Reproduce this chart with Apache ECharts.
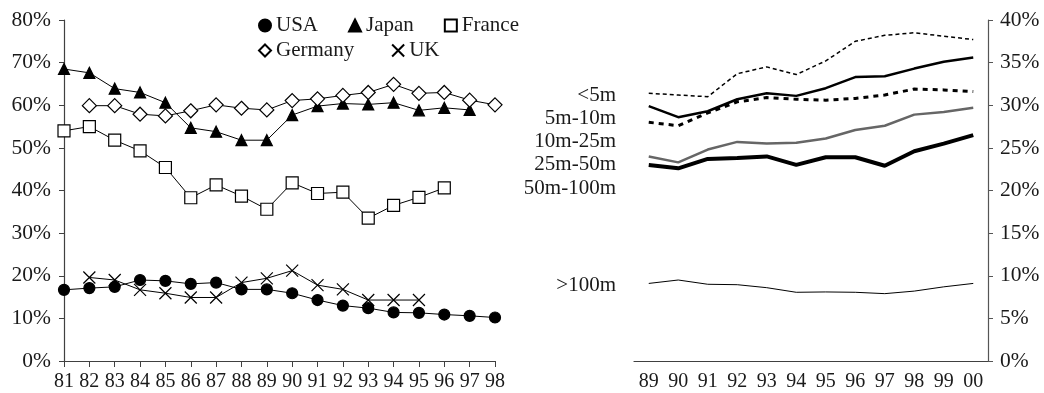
<!DOCTYPE html>
<html>
<head>
<meta charset="utf-8">
<script src="https://cdn.jsdelivr.net/npm/echarts@6/dist/echarts.min.js"></script>
<style>
  html, body { margin: 0; padding: 0; background: #fff; }
  #chart { width: 1044px; height: 393px; }
</style>
</head>
<body>
<div id="chart"></div>
<script>
// left panel: share by country, 1981-1998
const yearsLeft = ["81","82","83","84","85","86","87","88","89","90","91","92","93","94","95","96","97","98"];
const usa     = [16.7,17.1,17.4,19.0,18.8,18.1,18.4,16.8,16.8,15.9,14.3,13.0,12.4,11.4,11.3,10.9,10.6,10.2];
const japan   = [68.5,67.6,63.9,63.0,60.6,54.7,53.8,51.8,51.8,57.7,59.8,60.4,60.2,60.6,58.8,59.4,58.9,null];
const france  = [54.0,55.0,51.8,49.3,45.4,38.3,41.3,38.7,35.6,41.8,39.3,39.6,33.5,36.5,38.4,40.6,null,null];
const germany = [null,59.9,59.9,57.9,57.5,58.7,60.1,59.3,58.9,61.1,61.5,62.3,63.0,64.9,62.8,63.0,61.2,60.1];
const uk      = [null,19.6,19.0,16.7,15.9,14.9,14.9,18.4,19.4,21.2,17.8,16.8,14.3,14.3,14.3,null,null,null];

// right panel: share by size class, 1989-2000
const yearsRight = ["89","90","91","92","93","94","95","96","97","98","99","00"];
const lt5    = [31.4,31.2,31.0,33.7,34.5,33.6,35.2,37.5,38.2,38.5,38.1,37.7];
const s5_10  = [29.9,28.6,29.3,30.7,31.4,31.1,32.0,33.3,33.4,34.3,35.1,35.6];
const s10_25 = [28.0,27.6,29.1,30.4,30.9,30.7,30.6,30.8,31.2,31.9,31.8,31.6];
const s25_50 = [24.0,23.3,24.8,25.7,25.5,25.6,26.1,27.1,27.6,28.9,29.2,29.7];
const s50_100= [23.0,22.6,23.7,23.8,24.0,23.0,23.9,23.9,22.9,24.6,25.5,26.5];
const gt100  = [9.1,9.5,9.0,8.95,8.6,8.06,8.1,8.06,7.9,8.2,8.7,9.1];
const sizeLabels = ["<5m","5m-10m","10m-25m","25m-50m","50m-100m",">100m"];

const font = "Liberation Serif";
const ink = "#1a1a1a";
const axisCol = "#404040";

const crossPath = "path://M0,0L10,10M10,0L0,10";

function countrySeries(name, data, symbol, size, fill) {
  return {
    name: name,
    type: "line",
    xAxisIndex: 0,
    yAxisIndex: 0,
    data: data,
    symbol: symbol,
    symbolSize: size,
    showAllSymbol: true,
    lineStyle: { color: "#000", width: 1 },
    itemStyle: { color: fill, borderColor: "#000", borderWidth: 1.2 },
    emphasis: { disabled: true },
    z: 3,
  };
}

function sizeSeries(name, data, width, color, dash) {
  return {
    name: name,
    type: "line",
    xAxisIndex: 1,
    yAxisIndex: 1,
    data: data,
    symbol: "none",
    lineStyle: { color: color, width: width, type: dash || "solid" },
    emphasis: { disabled: true },
  };
}

const labelY = [97, 120, 143, 166, 190, 287];

const legendText = { fontFamily: font, fontSize: 21, color: ink };

const option = {
  animation: false,
  textStyle: { fontFamily: font, color: ink },
  legend: [
    {
      data: [
        { name: "USA", icon: "circle" },
        { name: "Japan", icon: "triangle" },
        { name: "France", icon: "rect" },
      ],
      left: 253, top: 10,
      itemWidth: 12, itemHeight: 12, itemGap: 30,
      textStyle: legendText,
    },
    {
      data: [
        { name: "Germany", icon: "diamond" },
        { name: "UK", icon: crossPath },
      ],
      left: 253, top: 35,
      itemWidth: 12, itemHeight: 12, itemGap: 37,
      textStyle: legendText,
    },
  ],
  grid: [
    { left: 64, top: 20, width: 431, bottom: 32 },
    { left: 634, top: 20, width: 354, bottom: 32 },
  ],
  xAxis: [
    {
      gridIndex: 0,
      type: "category",
      data: yearsLeft,
      boundaryGap: false,
      axisLine: { lineStyle: { color: axisCol, width: 1.2 } },
      axisTick: { length: 6, lineStyle: { color: axisCol } },
      axisLabel: { fontFamily: font, fontSize: 20, color: ink, margin: 11, interval: 0 },
    },
    {
      gridIndex: 1,
      type: "category",
      data: yearsRight,
      boundaryGap: true,
      axisLine: { lineStyle: { color: axisCol, width: 1.2 } },
      axisTick: { length: 6, lineStyle: { color: axisCol } },
      axisLabel: { fontFamily: font, fontSize: 20, color: ink, margin: 11, interval: 0 },
    },
  ],
  yAxis: [
    {
      gridIndex: 0,
      type: "value",
      min: 0, max: 80, interval: 10,
      axisLine: { show: true, lineStyle: { color: axisCol, width: 1.2 } },
      axisTick: { show: true, length: 5, lineStyle: { color: axisCol } },
      splitLine: { show: false },
      axisLabel: { formatter: "{value}%", fontFamily: font, fontSize: 21.5, color: ink, margin: 13 },
    },
    {
      gridIndex: 1,
      type: "value",
      position: "right",
      min: 0, max: 40, interval: 5,
      axisLine: { show: true, lineStyle: { color: "#555", width: 1.2 } },
      axisTick: { show: true, length: 5, lineStyle: { color: "#555" } },
      splitLine: { show: false },
      axisLabel: { formatter: "{value}%", fontFamily: font, fontSize: 21.5, color: ink, margin: 12 },
    },
  ],
  graphic: sizeLabels.map((t, i) => ({
    type: "text",
    right: 1044 - 616,
    top: labelY[i] - 12,
    style: { text: t, font: "21px " + font, fill: ink, align: "right" },
  })),
  series: [
    countrySeries("USA", usa, "circle", 11, "#000"),
    countrySeries("Japan", japan, "triangle", 11, "#000"),
    countrySeries("France", france, "rect", 12, "#fff"),
    countrySeries("Germany", germany, "diamond", 14, "#fff"),
    countrySeries("UK", uk, crossPath, 12, "#fff"),
    sizeSeries("<5m", lt5, 1.5, "#000", [4, 3]),
    sizeSeries("5m-10m", s5_10, 2.5, "#000"),
    sizeSeries("10m-25m", s10_25, 3, "#000", [5, 5]),
    sizeSeries("25m-50m", s25_50, 2.5, "#666"),
    sizeSeries("50m-100m", s50_100, 4, "#000"),
    sizeSeries(">100m", gt100, 1, "#000"),
  ],
};

const chart = echarts.init(document.getElementById("chart"));
chart.setOption(option);
</script>
</body>
</html>
